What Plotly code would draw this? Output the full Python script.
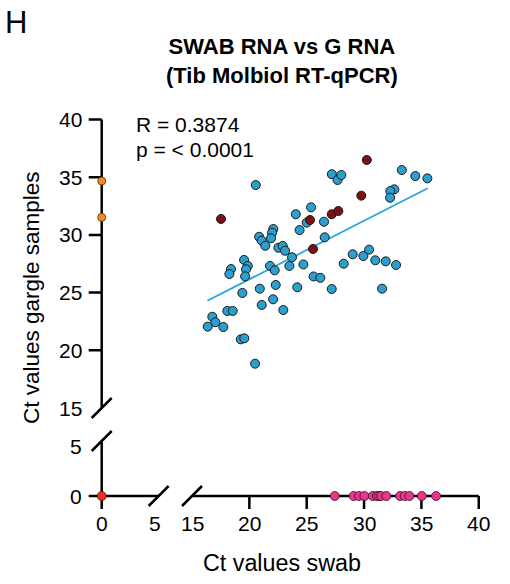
import plotly.graph_objects as go

W, H = 510, 584

# ---------------- data ----------------
blue_x = [20.56, 27.19, 27.69, 28.02, 25.38, 24.05, 25.00, 26.51, 24.38, 22.09,
          21.98, 21.89, 20.85, 21.08, 21.39, 26.57, 22.53, 22.91, 23.11, 23.72,
          19.54, 19.86, 19.71, 18.40, 18.26, 19.63, 21.80, 22.21, 23.49, 24.71,
          25.60, 26.19, 27.18, 19.39, 20.91, 22.30, 24.18, 21.08, 22.07, 22.96,
          18.08, 18.55, 16.77, 17.04, 16.37, 17.73, 19.25, 19.56, 20.50, 33.29,
          34.47, 35.52, 32.64, 32.29, 32.27, 29.01, 29.94, 30.44, 28.23, 30.98,
          31.89, 32.79, 31.57]
blue_y = [34.32, 35.26, 34.76, 35.19, 32.39, 31.79, 31.06, 31.14, 30.42, 30.51,
          30.19, 29.71, 29.84, 29.50, 29.06, 29.79, 28.89, 29.04, 28.63, 28.06,
          27.83, 27.31, 27.02, 27.04, 26.61, 26.41, 27.31, 26.93, 27.31, 27.44,
          26.40, 26.28, 25.31, 24.97, 25.34, 25.66, 25.46, 23.93, 24.42, 23.49,
          23.41, 23.41, 22.91, 22.43, 22.05, 22.02, 20.95, 21.04, 18.84, 35.62,
          35.10, 34.90, 33.95, 33.80, 33.22, 28.32, 28.17, 28.72, 27.50, 27.80,
          27.71, 27.39, 25.34]
darkred_x = [17.53, 25.29, 27.18, 27.76, 25.55, 30.24, 29.76]
darkred_y = [31.38, 31.29, 31.79, 32.07, 28.78, 36.49, 33.40]
orange_x = [0, 0]
orange_y = [34.67, 31.52]
pink_x = [27.45, 29.10, 29.56, 30.03, 30.76, 31.11, 31.30, 31.48, 31.94, 33.14,
          33.55, 33.95, 35.03, 36.28]
pink_y = [0] * len(pink_x)
origin_x = [0]
origin_y = [0]
fit_x = [16.34, 35.55]
fit_y = [24.30, 34.04]

# axis segments (broken axes) and their ticks / labels
x_left_span = [0, 5.35]
x_right_span = [15, 40]
y_low_span = [0, 5.5]
y_up_span = [15, 40]
x_left_ticks = [0]
x_left_labels = [0, 5]
x_right_ticks = [20, 25, 30, 35, 40]
x_right_labels = [15, 20, 25, 30, 35, 40]
y_low_ticks = [0]
y_low_labels = [0, 5]
y_up_ticks = [20, 25, 30, 35, 40]
y_up_labels = [15, 20, 25, 30, 35, 40]

# ---------------- layout geometry (pixels) ----------------
PX_X0, SX_L = 101.7, 10.64     # left x segment: pixel of x=0, px per unit
PX_X15, SX_R = 192.0, 11.47    # right x segment: pixel of x=15
PY_Y0, SY_L = 496.0, 10.0      # lower y segment: pixel of y=0
PY_Y15, SY_U = 408.0, 11.54    # upper y segment: pixel of y=15
xL_range = [-2.0, 6.5]
xR_range = [13.5, 41.0]
yL_range = [-2.0, 7.0]
yU_range = [13.5, 41.0]

def xdom(p0, v0, s, rng):
    return [(p0 + (rng[0] - v0) * s) / W, (p0 + (rng[1] - v0) * s) / W]

def ydom(p0, v0, s, rng):
    return [1 - (p0 - (rng[0] - v0) * s) / H, 1 - (p0 - (rng[1] - v0) * s) / H]

FONT = "Liberation Sans, Arial, sans-serif"
BLACK = "#000000"
LW = 2.5
TL = 13

def px(x):
    return x / W

def py(y):
    return 1 - y / H

fig = go.Figure()

fig.add_trace(go.Scatter(x=fit_x, y=fit_y, xaxis="x2", yaxis="y2", mode="lines",
                         line=dict(color="#2ea6da", width=1.8), hoverinfo="skip"))
fig.add_trace(go.Scatter(x=blue_x, y=blue_y, xaxis="x2", yaxis="y2", mode="markers",
                         marker=dict(size=9, color="#2b9fcf", line=dict(color="#1a1a1a", width=1))))
fig.add_trace(go.Scatter(x=darkred_x, y=darkred_y, xaxis="x2", yaxis="y2", mode="markers",
                         marker=dict(size=9, color="#7a1214", line=dict(color="#1a1a1a", width=1))))
fig.add_trace(go.Scatter(x=orange_x, y=orange_y, xaxis="x", yaxis="y2", mode="markers",
                         marker=dict(size=8, color="#f5891f", line=dict(color="#5a3000", width=0.8))))
fig.add_trace(go.Scatter(x=origin_x, y=origin_y, xaxis="x", yaxis="y", mode="markers",
                         marker=dict(size=9, color="#e8321e", line=dict(color="#5a1000", width=0.8))))
fig.add_trace(go.Scatter(x=pink_x, y=pink_y, xaxis="x2", yaxis="y", mode="markers",
                         marker=dict(size=9, color="#e6388e", line=dict(color="#3a0a20", width=0.8))))

hidden = dict(visible=False, showgrid=False, zeroline=False, fixedrange=True)

fig.update_layout(
    width=W, height=H, autosize=False,
    margin=dict(l=0, r=0, t=0, b=0, pad=0, autoexpand=False),
    paper_bgcolor="white", plot_bgcolor="rgba(0,0,0,0)", showlegend=False,
    xaxis=dict(domain=xdom(PX_X0, 0, SX_L, xL_range), range=xL_range, anchor="y", **hidden),
    xaxis2=dict(domain=xdom(PX_X15, 15, SX_R, xR_range), range=xR_range, anchor="y", **hidden),
    yaxis=dict(domain=ydom(PY_Y0, 0, SY_L, yL_range), range=yL_range, anchor="x", **hidden),
    yaxis2=dict(domain=ydom(PY_Y15, 15, SY_U, yU_range), range=yU_range, anchor="x", **hidden),
)

line_style = dict(color=BLACK, width=LW)

# axis lines (below markers)
fig.add_shape(type="line", xref="x", yref="y", x0=x_left_span[0], x1=x_left_span[1],
              y0=0, y1=0, line=line_style, layer="below")
fig.add_shape(type="line", xref="x2", yref="y", x0=x_right_span[0], x1=x_right_span[1],
              y0=0, y1=0, line=line_style, layer="below")
fig.add_shape(type="line", xref="x", yref="y", x0=0, x1=0,
              y0=y_low_span[0], y1=y_low_span[1], line=line_style, layer="below")
fig.add_shape(type="line", xref="x", yref="y2", x0=0, x1=0,
              y0=y_up_span[0], y1=y_up_span[1], line=line_style, layer="below")

# tick marks
for xr, vals in (("x", x_left_ticks), ("x2", x_right_ticks)):
    for v in vals:
        fig.add_shape(type="line", xref=xr, yref="y", x0=v, x1=v, ysizemode="pixel",
                      yanchor=0, y0=0, y1=-TL, line=line_style, layer="below")
for yr, vals in (("y", y_low_ticks), ("y2", y_up_ticks)):
    for v in vals:
        fig.add_shape(type="line", xref="x", yref=yr, y0=v, y1=v, xsizemode="pixel",
                      xanchor=0, x0=0, x1=-TL, line=line_style, layer="below")

# break slashes
def slash(xref, xa, yref, ya):
    fig.add_shape(type="line", xref=xref, yref=yref, xsizemode="pixel", ysizemode="pixel",
                  xanchor=xa, yanchor=ya, x0=-10, x1=10, y0=-10, y1=10, line=line_style)

slash("x", x_left_span[1], "y", 0)
slash("x2", x_right_span[0], "y", 0)
slash("x", 0, "y2", y_up_span[0])
slash("x", 0, "y", y_low_span[1])

# tick labels
tf = dict(family=FONT, size=21, color=BLACK)
for xr, vals in (("x", x_left_labels), ("x2", x_right_labels)):
    for v in vals:
        fig.add_annotation(text=str(v), xref=xr, x=v, yref="y", y=0, xanchor="center",
                           yanchor="middle", yshift=-27, showarrow=False, font=tf)
for yr, vals in (("y", y_low_labels), ("y2", y_up_labels)):
    for v in vals:
        fig.add_annotation(text=str(v), xref="x", x=0, yref=yr, y=v, xanchor="right",
                           yanchor="middle", xshift=-18, showarrow=False, font=tf)

# texts
fig.add_annotation(text="H", xref="paper", yref="paper", x=px(3), y=py(23), xanchor="left",
                   yanchor="middle", showarrow=False, font=dict(family=FONT, size=31, color=BLACK))
fig.add_annotation(text="<b>SWAB RNA vs G RNA</b><br><b>(Tib Molbiol RT-qPCR)</b>",
                   xref="paper", yref="paper", x=px(282), y=py(61), xanchor="center",
                   yanchor="middle", align="center", showarrow=False,
                   font=dict(family=FONT, size=22, color=BLACK))
fig.add_annotation(text="R = 0.3874", xref="paper", yref="paper",
                   x=px(134), y=py(124.5), xanchor="left", yanchor="middle",
                   showarrow=False, font=dict(family=FONT, size=21, color=BLACK))
fig.add_annotation(text="p = &lt; 0.0001", xref="paper", yref="paper",
                   x=px(134), y=py(149), xanchor="left", yanchor="middle",
                   showarrow=False, font=dict(family=FONT, size=21, color=BLACK))
fig.add_annotation(text="Ct values gargle samples", xref="paper", yref="paper",
                   x=px(31), y=py(298), xanchor="center", yanchor="middle", textangle=-90,
                   showarrow=False, font=dict(family=FONT, size=22.5, color=BLACK))
fig.add_annotation(text="Ct values swab", xref="paper", yref="paper",
                   x=px(282), y=py(563), xanchor="center", yanchor="middle",
                   showarrow=False, font=dict(family=FONT, size=23.3, color=BLACK))

fig.write_html("out.html")
